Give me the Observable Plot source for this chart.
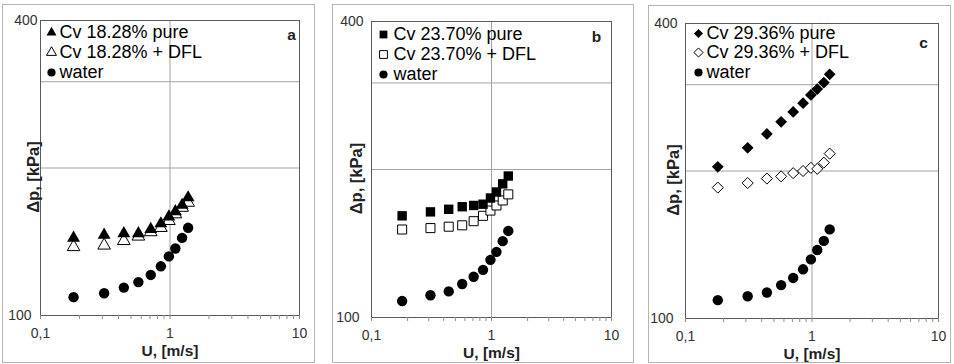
<!DOCTYPE html>
<html><head><meta charset="utf-8">
<script src="https://cdn.jsdelivr.net/npm/d3@7"></script>
<script src="https://cdn.jsdelivr.net/npm/@observablehq/plot@0.6"></script>
<style>
body{margin:0;background:#fff;}
#root{position:relative;width:954px;height:364px;overflow:hidden;font-family:"Liberation Sans",Arial,sans-serif;}
.box{position:absolute;border:1px solid #b4b4b4;box-sizing:border-box;}
.panel{position:absolute;top:0;}
</style></head><body><div id="root"></div>
<script>
// ---- data ----
const U = [0.18, 0.31, 0.44, 0.57, 0.71, 0.85, 0.98, 1.10, 1.24, 1.38];

const waterA = [109, 111, 114, 117, 121, 126, 132, 137, 144, 151];
const pureA  = [144, 146, 147, 147, 150, 154, 159, 163, 168, 174];
const dflA   = [138, 139, 142, 145, 148, 151, 156, 161, 166, 170];

const waterB = [108, 111, 113, 117, 121, 125, 131, 136, 143, 150];
const pureB  = [161, 164, 166, 168, 169, 170, 175, 180, 187, 194];
const dflB   = [151, 152, 153, 154, 157, 161, 165, 169, 173, 178];

const waterC = [109, 111, 113, 117, 121, 126, 132, 138, 144, 152];
const pureC  = [204, 223, 238, 252, 264, 275, 286, 294, 303, 315];
const dflC   = [185, 189, 193, 195, 198, 200, 203, 202, 208, 217];

const labelsA = ["Cv 18.28% pure", "Cv 18.28% + DFL", "water"];
const labelsB = ["Cv 23.70% pure", "Cv 23.70% + DFL", "water"];
const labelsC = ["Cv 29.36% pure", "Cv 29.36% + DFL", "water"];
const panelLetters = ["a", "b", "c"];

const xTickValues = [0.1, 1, 10];
const xTickLabels = ["0,1", "1", "10"];
const xMinorTicks = [0.1,0.2,0.3,0.4,0.5,0.6,0.7,0.8,0.9,1,2,3,4,5,6,7,8,9,10];
const yTickValues = [100, 400];
const yTickLabels = ["100", "400"];
const yGridValues = [200, 300];
const xGridValues = [1];
const xTitle = "U, [m/s]";
const yTitle = "Δp, [kPa]";

// ---- layout ----
const FONT = "Liberation Sans, Arial, sans-serif";
const panels = [
  {letter: panelLetters[0], labels: labelsA, water: waterA, pure: pureA, dfl: dflA,
   sym: "triangle", rPure: 4.8, rDfl: 4.7, rLeg: 3.7,
   svgLeft: 0, width: 316, m: {top: 20, right: 17, bottom: 49, left: 40},
   box: {left: 2, top: 4, right: 315, bottom: 363},
   legSym: 11, legText: 19, legRows: [12, 32, 52], letterDx: -8, letterDy: 15,
   yTitleDx: -7, pad400: 3, pad100: 9},
  {letter: panelLetters[1], labels: labelsB, water: waterB, pure: pureB, dfl: dflB,
   sym: "square", rPure: 5.3, rDfl: 5.1, rLeg: 4.4,
   svgLeft: 318, width: 318, m: {top: 21, right: 25, bottom: 47, left: 53},
   box: {left: 332, top: 4, right: 634, bottom: 363},
   legSym: 12, legText: 22, legRows: [13, 33, 53], letterDx: -15, letterDy: 16,
   yTitleDx: -15, pad400: 8, pad100: 12},
  {letter: panelLetters[2], labels: labelsC, water: waterC, pure: pureC, dfl: dflC,
   sym: "diamond2", rPure: 5.3, rDfl: 5.0, rLeg: 4.1,
   svgLeft: 636, width: 318, m: {top: 23, right: 16, bottom: 46, left: 49},
   box: {left: 648, top: 5, right: 951, bottom: 363},
   legSym: 13, legText: 21, legRows: [10, 29, 49], letterDx: -15, letterDy: 20,
   yTitleDx: -12, pad400: 8, pad100: 12}
];

const root = document.getElementById("root");

for (const p of panels) {
  const box = document.createElement("div");
  box.className = "box";
  Object.assign(box.style, {left: p.box.left + "px", top: p.box.top + "px",
    width: (p.box.right - p.box.left) + "px", height: (p.box.bottom - p.box.top) + "px"});
  root.appendChild(box);

  const rows = (vals) => U.map((u, i) => ({u, v: vals[i]}));
  const fmtX = (d) => xTickLabels[xTickValues.indexOf(d)];
  const fmtY = (d) => yTickLabels[yTickValues.indexOf(d)];
  const legSyms = [
    {symbol: p.sym, fill: "black", stroke: "none", r: p.rLeg},
    {symbol: p.sym, fill: "white", stroke: "black", r: p.rLeg},
    {symbol: "circle", fill: "black", stroke: "none", r: 4.1}
  ];

  const marks = [
    Plot.ruleY(yGridValues, {stroke: "#a3a3a3", strokeWidth: 1}),
    Plot.ruleX(xGridValues, {stroke: "#a3a3a3", strokeWidth: 1}),
    Plot.frame({stroke: "#5a5a5a"}),
    Plot.axisX(xMinorTicks, {tickSize: 4, tickFormat: () => "", label: null, stroke: "#8c8c8c"}),
    Plot.axisX(xTickValues, {tickSize: 0, tickPadding: 13, tickFormat: fmtX, label: null, fontSize: 14, fill: "#333"}),
    Plot.axisY([yTickValues[1]], {tickSize: 0, tickPadding: p.pad400, tickFormat: fmtY, label: null, fontSize: 14, fill: "#333"}),
    Plot.axisY([yTickValues[0]], {tickSize: 0, tickPadding: p.pad100, tickFormat: fmtY, label: null, fontSize: 14, fill: "#333"}),
    Plot.dot(rows(p.water), {x: "u", y: "v", symbol: "circle", fill: "black", r: 5.2}),
    Plot.dot(rows(p.dfl), {x: "u", y: "v", symbol: p.sym, fill: "white", stroke: "black", strokeWidth: 1, r: p.rDfl}),
    Plot.dot(rows(p.pure), {x: "u", y: "v", symbol: p.sym, fill: "black", r: p.rPure}),
    Plot.text([xTitle], {frameAnchor: "bottom", dy: 36, textAnchor: "middle", lineAnchor: "middle",
      fontWeight: "bold", fontSize: 15.5, fill: "#222"}),
    Plot.text([yTitle], {frameAnchor: "left", dx: p.yTitleDx, dy: 9, rotate: -90, textAnchor: "middle",
      lineAnchor: "middle", fontWeight: "bold", fontSize: 16.5, fill: "#222"}),
    Plot.text([p.letter], {frameAnchor: "top-right", dx: p.letterDx, dy: p.letterDy, textAnchor: "middle",
      lineAnchor: "middle", fontWeight: "bold", fontSize: 15.5, fill: "#222"})
  ];
  p.labels.forEach((lab, i) => {
    const s = legSyms[i];
    marks.push(Plot.dot([lab], {frameAnchor: "top-left", dx: p.legSym, dy: p.legRows[i],
      symbol: s.symbol, fill: s.fill, stroke: s.stroke, strokeWidth: 1, r: s.r}));
    marks.push(Plot.text([lab], {text: d => d, frameAnchor: "top-left", dx: p.legText, dy: p.legRows[i],
      textAnchor: "start", lineAnchor: "middle", fontSize: 18, fill: "#000"}));
  });

  const svg = Plot.plot({
    width: p.width, height: 364,
    marginTop: p.m.top, marginRight: p.m.right, marginBottom: p.m.bottom, marginLeft: p.m.left,
    style: {fontFamily: FONT, background: "transparent", overflow: "visible"},
    x: {type: "log", domain: [0.1, 10]},
    y: {type: "log", domain: [100, 400]},
    marks
  });
  svg.classList.add("panel");
  svg.style.left = p.svgLeft + "px";
  svg.style.position = "absolute";
  svg.style.top = "0px";
  root.appendChild(svg);
}
</script>
</body></html>
